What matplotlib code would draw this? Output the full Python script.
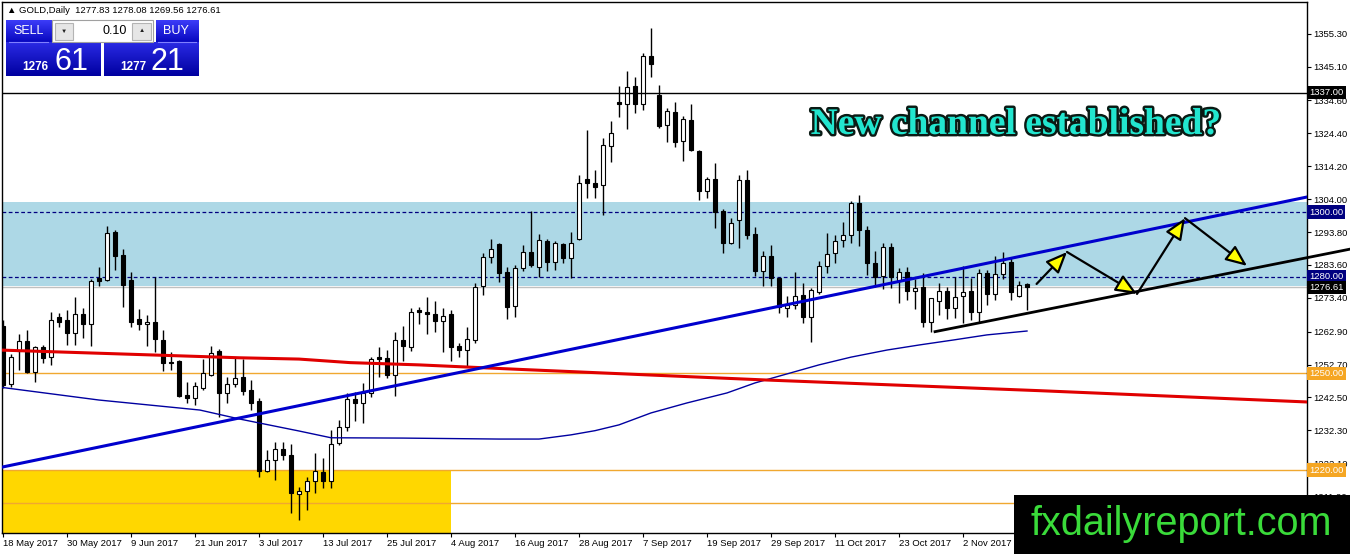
import matplotlib
matplotlib.use("Agg")
import matplotlib.pyplot as plt
import matplotlib.patheffects as pe
import numpy as np
from matplotlib.colors import LinearSegmentedColormap
from matplotlib.patches import FancyArrowPatch, Rectangle
from matplotlib.transforms import blended_transform_factory

plt.rcParams["font.family"] = ["Liberation Sans", "DejaVu Sans"]

W, H = 1350, 554

# daily candles, bar 0 = 18 May 2017
opens = [1264.6, 1246.6, 1256.9, 1260.0, 1250.4, 1258.1, 1255.0, 1267.5, 1266.5, 1262.5,
         1268.4, 1265.2, 1279.5, 1278.9, 1293.8, 1286.7, 1278.9, 1266.8, 1265.2, 1265.8,
         1260.3, 1253.5, 1253.8, 1243.2, 1242.3, 1245.4, 1249.5, 1256.9, 1243.9, 1246.7,
         1248.8, 1244.8, 1241.4, 1219.7, 1223.1, 1226.5, 1224.6, 1212.6, 1213.5, 1216.6,
         1219.4, 1216.6, 1228.4, 1233.3, 1242.0, 1240.8, 1243.9, 1255.0, 1254.7, 1249.5,
         1260.3, 1258.1, 1269.6, 1269.0, 1268.4, 1266.2, 1268.4, 1258.5, 1257.2, 1260.3,
         1277.1, 1286.1, 1290.1, 1281.4, 1270.8, 1282.6, 1287.6, 1282.9, 1291.0, 1284.5,
         1290.1, 1285.7, 1291.6, 1310.2, 1309.0, 1308.4, 1320.5, 1334.1, 1333.5, 1339.1,
         1333.5, 1348.4, 1336.3, 1327.0, 1331.0, 1322.0, 1328.5, 1318.9, 1306.5, 1310.2,
         1300.3, 1290.4, 1297.5, 1309.9, 1293.2, 1281.7, 1286.4, 1279.5, 1270.2, 1271.2,
         1274.3, 1267.4, 1275.2, 1283.3, 1287.3, 1291.3, 1292.9, 1302.8, 1294.4, 1284.2,
         1280.2, 1289.2, 1278.6, 1281.4, 1275.5, 1276.7, 1265.9, 1272.4, 1275.5, 1270.2,
         1274.0, 1275.5, 1269.0, 1281.1, 1274.6, 1280.8, 1284.5, 1274.0, 1277.83]
highs = [1266.5, 1255.9, 1262.2, 1263.4, 1258.4, 1258.8, 1269.0, 1268.7, 1269.6, 1273.6,
         1270.2, 1279.2, 1282.9, 1295.7, 1294.4, 1288.5, 1281.4, 1269.9, 1268.1, 1279.8,
         1263.4, 1256.6, 1254.1, 1247.3, 1247.3, 1254.4, 1258.5, 1257.5, 1248.9, 1254.7,
         1254.4, 1247.9, 1242.3, 1226.2, 1228.7, 1228.7, 1228.1, 1214.7, 1217.8, 1225.3,
         1223.7, 1232.4, 1235.5, 1243.9, 1244.2, 1247.0, 1255.0, 1258.2, 1257.2, 1262.8,
         1264.7, 1270.2, 1270.5, 1273.6, 1272.4, 1270.2, 1269.6, 1259.4, 1264.3, 1278.0,
         1287.3, 1291.6, 1290.4, 1282.9, 1283.6, 1289.8, 1300.3, 1293.2, 1291.6, 1291.0,
         1290.4, 1293.8, 1311.5, 1325.4, 1313.0, 1322.9, 1328.2, 1339.1, 1343.7, 1341.9,
         1349.3, 1357.1, 1339.4, 1332.2, 1334.1, 1329.8, 1333.5, 1319.2, 1310.8, 1315.2,
         1300.9, 1298.1, 1311.5, 1313.0, 1295.3, 1287.9, 1289.8, 1279.8, 1274.0, 1281.4,
         1278.0, 1276.4, 1284.8, 1293.5, 1292.9, 1296.9, 1303.4, 1305.3, 1295.7, 1287.9,
         1290.4, 1290.4, 1282.6, 1282.9, 1279.2, 1281.1, 1273.3, 1278.0, 1276.7, 1279.8,
         1283.3, 1279.5, 1282.3, 1282.0, 1286.4, 1287.6, 1285.7, 1278.6, 1278.08]
lows = [1245.4, 1245.7, 1251.0, 1250.1, 1247.3, 1253.2, 1252.6, 1264.3, 1258.8, 1258.8,
        1261.0, 1258.5, 1277.1, 1278.6, 1282.0, 1270.5, 1264.3, 1263.4, 1258.5, 1256.6,
        1250.7, 1251.0, 1242.6, 1240.8, 1240.1, 1244.8, 1249.2, 1236.5, 1240.8, 1245.7,
        1243.2, 1238.6, 1217.8, 1219.4, 1216.9, 1223.1, 1206.7, 1204.5, 1207.6, 1212.9,
        1214.4, 1214.4, 1227.7, 1232.1, 1235.2, 1234.6, 1242.6, 1248.8, 1248.5, 1243.0,
        1253.8, 1256.9, 1265.3, 1262.2, 1262.8, 1256.6, 1253.8, 1255.0, 1251.9, 1259.4,
        1274.3, 1284.2, 1278.3, 1266.8, 1267.4, 1281.7, 1282.9, 1279.8, 1281.7, 1282.0,
        1284.2, 1279.5, 1291.3, 1304.3, 1304.3, 1299.1, 1315.5, 1329.5, 1325.7, 1330.7,
        1331.6, 1341.9, 1326.1, 1321.7, 1320.2, 1315.8, 1318.9, 1303.7, 1304.3, 1295.0,
        1287.3, 1290.1, 1288.8, 1291.6, 1280.2, 1277.1, 1277.1, 1268.7, 1267.4, 1269.9,
        1265.6, 1259.7, 1274.6, 1281.1, 1284.2, 1289.2, 1290.4, 1289.5, 1280.5, 1276.7,
        1276.1, 1276.4, 1271.8, 1272.7, 1269.9, 1264.3, 1262.8, 1268.1, 1266.8, 1267.1,
        1265.6, 1266.5, 1265.9, 1271.2, 1272.7, 1279.2, 1272.7, 1273.6, 1269.56]
closes = [1246.3, 1255.0, 1260.0, 1250.4, 1258.1, 1254.7, 1266.5, 1265.9, 1262.5, 1268.4,
          1265.2, 1278.6, 1278.6, 1293.5, 1286.4, 1277.4, 1265.9, 1265.2, 1265.8, 1260.6,
          1253.2, 1253.2, 1242.9, 1242.3, 1246.0, 1250.1, 1256.3, 1243.9, 1246.7, 1248.5,
          1244.5, 1240.8, 1219.7, 1223.1, 1226.5, 1224.6, 1212.9, 1213.5, 1216.6, 1219.7,
          1216.6, 1228.1, 1233.3, 1242.0, 1240.8, 1243.9, 1254.4, 1254.4, 1249.5, 1260.3,
          1258.5, 1269.0, 1269.0, 1268.4, 1266.2, 1267.7, 1258.1, 1257.2, 1260.6, 1276.7,
          1286.1, 1288.5, 1281.1, 1270.5, 1282.6, 1287.6, 1283.6, 1291.3, 1284.5, 1290.4,
          1285.7, 1290.4, 1309.0, 1309.0, 1307.8, 1320.8, 1324.5, 1333.5, 1338.8, 1333.5,
          1348.4, 1345.9, 1326.7, 1331.3, 1321.7, 1328.8, 1319.2, 1306.5, 1310.2, 1300.0,
          1290.4, 1296.6, 1309.9, 1292.9, 1281.7, 1286.4, 1279.5, 1270.5, 1271.2, 1274.0,
          1267.4, 1275.8, 1283.3, 1287.0, 1291.0, 1292.9, 1302.8, 1294.4, 1284.2, 1279.8,
          1289.2, 1279.8, 1281.4, 1275.5, 1276.4, 1265.9, 1273.3, 1275.5, 1270.2, 1273.6,
          1275.2, 1269.0, 1281.1, 1274.6, 1280.8, 1284.2, 1275.2, 1277.4, 1276.61]

date_labels = ["18 May 2017", "30 May 2017", "9 Jun 2017", "21 Jun 2017", "3 Jul 2017",
               "13 Jul 2017", "25 Jul 2017", "4 Aug 2017", "16 Aug 2017", "28 Aug 2017",
               "7 Sep 2017", "19 Sep 2017", "29 Sep 2017", "11 Oct 2017", "23 Oct 2017",
               "2 Nov 2017"]
date_bars = [0, 8, 16, 24, 32, 40, 48, 56, 64, 72, 80, 88, 96, 104, 112, 120]

price_ticks = [1355.30, 1345.10, 1334.60, 1324.40, 1314.20, 1304.00, 1293.80, 1283.60,
               1273.40, 1262.90, 1252.70, 1242.50, 1232.30, 1222.10, 1211.90]

# slow moving average (thin navy) and red average, read at a few bars
ma_bars = [-0.4, 12, 24.6, 29.6, 37, 41, 50, 62, 67, 71, 74, 77, 81, 85.5, 90.5, 94,
           98, 102, 106, 110.5, 114.6, 118.75, 123, 128]
ma_vals = [1245.7, 1241.7, 1238.6, 1235.8, 1232.1, 1230.0, 1229.9, 1229.6, 1229.6, 1230.9,
           1232.2, 1234.0, 1237.7, 1240.8, 1243.9, 1247.0, 1249.8, 1252.6, 1255.0, 1257.2,
           1258.8, 1260.3, 1261.9, 1263.1]
red_bars = [-0.4, 29.6, 37, 43.4, 52, 64.6, 95.5, 129.6, 163]
red_vals = [1257.2, 1254.8, 1254.4, 1253.3, 1252.6, 1251.2, 1247.9, 1244.6, 1241.1]

# drawn objects
zone_low, zone_high = 1277.1, 1303.2
support_box_top, support_box_end = 1220.0, 56
upper_line = ([-0.125, 163], [1220.9, 1304.65])
lower_line = ([116.5, 168.4], [1262.9, 1288.5])
path_bars = [129.2, 133.0, 141.75, 147.75, 155.5]
path_vals = [1277.7, 1287.6, 1274.6, 1298.1, 1283.3]

level_boxes = [(1337.00, "black"), (1300.00, "#000080"), (1280.00, "#000080"),
               (1276.61, "black"), (1250.00, "#F5A623"), (1220.00, "#F5A623")]

fig = plt.figure(figsize=(W / 100, H / 100), dpi=100)
ax = fig.add_axes([2 / W, 21 / H, 1305 / W, 531 / H])
ax.set_xlim(-0.125, 163)
ax.set_ylim(1200.47, 1365.12)

# background zones
ax.axhspan(zone_low, zone_high, color="#ADD8E6", lw=0, zorder=0)
ax.add_patch(Rectangle((-0.125, 1195), support_box_end + 0.125, support_box_top - 1195,
                       facecolor="#FFD700", edgecolor="none", zorder=0))

# horizontal levels
ax.axhline(1337.0, color="black", lw=1, zorder=5)
ax.axhline(1300.0, color="#000080", lw=0.9, ls=(0, (3, 2)), zorder=2)
ax.axhline(1280.0, color="#000080", lw=0.9, ls=(0, (3, 2)), zorder=2)
ax.axhline(1276.61, color="#C0C0C0", lw=1, zorder=1)
for lvl in [1250.0, 1220.0, 1209.7]:
    ax.axhline(lvl, color="#F0A830", lw=1, zorder=1)

# candles
x = np.arange(len(opens))
o = np.array(opens)
c = np.array(closes)
up = c >= o
ax.vlines(x, lows, highs, color="black", lw=1, zorder=3)
bottom = np.minimum(o, c)
height = np.maximum(np.abs(c - o), 0.35)
ax.bar(x[up], height[up], 0.62, bottom[up], facecolor="white", edgecolor="black",
       lw=0.8, zorder=4)
ax.bar(x[~up], height[~up], 0.62, bottom[~up], facecolor="black", edgecolor="black",
       lw=0.8, zorder=4)

# indicators and trend lines
ax.plot(ma_bars, ma_vals, color="#0000A0", lw=1, zorder=5)
ax.plot(red_bars, red_vals, color="#E00000", lw=2.2, zorder=5)
ax.plot(*upper_line, color="#0000CD", lw=2.2, zorder=6)
ax.plot(*lower_line, color="black", lw=2, zorder=6, clip_on=False)

for i in range(len(path_bars) - 1):
    arr = FancyArrowPatch((path_bars[i], path_vals[i]), (path_bars[i + 1], path_vals[i + 1]),
                          arrowstyle="-|>,head_length=1.3,head_width=0.55", mutation_scale=10,
                          facecolor="yellow", edgecolor="black", lw=1.6,
                          shrinkA=0, shrinkB=0, zorder=7)
    ax.add_patch(arr)

ax.text(126.6, 1324.2, "New channel established?", ha="center", va="baseline",
        fontsize=27, fontweight="bold", family="Liberation Serif", color="#22E6CF",
        zorder=8, path_effects=[pe.withStroke(linewidth=3.5, foreground="#0A1A14")])

# axes styling
for s in ax.spines.values():
    s.set_color("black")
    s.set_linewidth(1)
ax.yaxis.tick_right()
ax.set_yticks(price_ticks)
ax.set_yticklabels([f"{v:.2f}" for v in price_ticks])
ax.set_xticks(date_bars)
ax.set_xticklabels(date_labels, ha="left")
ax.tick_params(axis="y", length=3, width=0.8, labelsize=6.8, pad=1.5)
ax.tick_params(axis="x", length=3, width=0.8, labelsize=6.8, pad=1)

trans = blended_transform_factory(ax.transAxes, ax.transData)
for val, col in level_boxes:
    ax.text(1.0017, val, f"{val:.2f}", transform=trans, ha="left", va="center",
            fontsize=6.8, color="white", zorder=9, clip_on=False,
            bbox=dict(boxstyle="square,pad=0.22", facecolor=col, edgecolor="none"))

# overlay in pixel coordinates: trade panel and watermark
ov = fig.add_axes([0, 0, 1, 1], zorder=10)
ov.patch.set_alpha(0)
ov.axis("off")

btn_cmap = LinearSegmentedColormap.from_list("btn", ["#3C3CF8", "#0808C0"])
box_cmap = LinearSegmentedColormap.from_list("box", ["#2A2AE4", "#0000A0"])
grad = np.linspace(0, 1, 40).reshape(-1, 1)
for (l, r, t, b), cm in [((6, 52, 20, 42), btn_cmap), ((156, 199, 20, 42), btn_cmap),
                         ((6, 101, 42, 76), box_cmap), ((104, 199, 42, 76), box_cmap)]:
    ov.imshow(grad, extent=(l, r, b, t), cmap=cm, aspect="auto", zorder=1)

ov.add_patch(Rectangle((52, 20), 101, 22, facecolor="white", edgecolor="#A0A0A0", lw=0.8, zorder=1))
ov.add_patch(Rectangle((55, 22.5), 18, 17, facecolor="#E6E6E6", edgecolor="#B4B4B4", lw=0.8, zorder=2))
ov.add_patch(Rectangle((132, 22.5), 19, 17, facecolor="#E6E6E6", edgecolor="#B4B4B4", lw=0.8, zorder=2))
ov.text(64, 31, "▼", ha="center", va="center", fontsize=4.5, color="#222222", zorder=3)
ov.text(141.5, 31, "▲", ha="center", va="center", fontsize=4.5, color="#222222", zorder=3)
ov.text(127, 31, "0.10", ha="right", va="center", fontsize=9, color="black", zorder=3)
ov.plot([9, 48], [41.5, 41.5], color="#8080FF", lw=0.8, zorder=3)
ov.plot([158, 196], [41.5, 41.5], color="#8080FF", lw=0.8, zorder=3)
ov.text(28.5, 31, "SELL", ha="center", va="center", fontsize=9, color="white", zorder=3)
ov.text(176, 31, "BUY", ha="center", va="center", fontsize=9, color="white", zorder=3)
ov.text(22, 70.5, "1276", ha="left", va="baseline", fontsize=8.5, fontweight="bold",
        color="white", zorder=3)
ov.text(54, 70.5, "61", ha="left", va="baseline", fontsize=22, color="white", zorder=3)
ov.text(120, 70.5, "1277", ha="left", va="baseline", fontsize=8.5, fontweight="bold",
        color="white", zorder=3)
ov.text(151, 70.5, "21", ha="left", va="baseline", fontsize=22, color="white", zorder=3)
ov.text(7, 10.5, "▲ GOLD,Daily  1277.83 1278.08 1269.56 1276.61", ha="left", va="center",
        fontsize=6.8, color="black", zorder=3)

ov.add_patch(Rectangle((1014, 495), 336, 59, facecolor="black", edgecolor="none", zorder=4))
ov.text(1181, 535, "fxdailyreport.com", ha="center", va="baseline", fontsize=28.5,
        color="#3ADB3A", zorder=5)

ov.set_xlim(0, W)
ov.set_ylim(H, 0)

fig.savefig("out.png", dpi=100)
